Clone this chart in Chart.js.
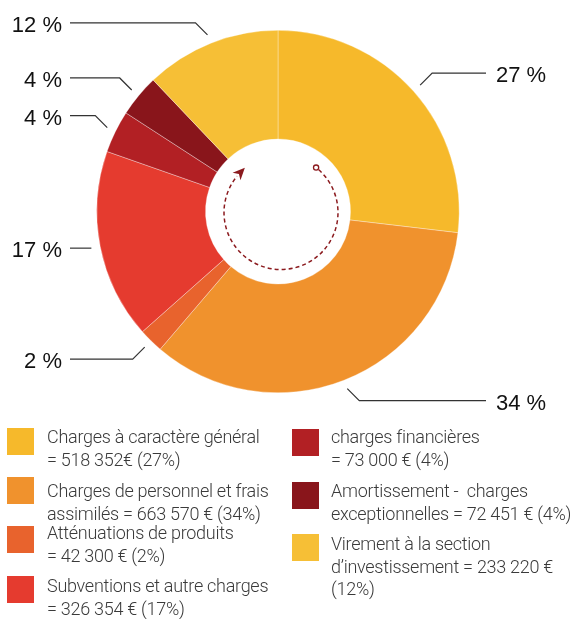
<!DOCTYPE html>
<html>
<head>
<meta charset="utf-8">
<script src="https://cdn.jsdelivr.net/npm/chart.js@4.4.1/dist/chart.umd.min.js"></script>
<style>
  html, body { margin: 0; padding: 0; background: #fff; }
  body { width: 571px; height: 619px; position: relative; overflow: hidden; }
  #c { position: absolute; left: 0; top: 0; }
  .sw { position: absolute; width: 27px; height: 27px; }
  .lt { position: absolute; font-family: Roboto, "Noto Sans", sans-serif; font-weight: 300;
        font-size: 18px; line-height: 22.5px; color: #3a3a3a; white-space: pre; letter-spacing: -0.28px; }
</style>
</head>
<body>
<canvas id="c" width="571" height="430"></canvas>
<div id="legend"></div>
<script>
// ---- data ----
const categories = [
  "Charges à caractère général\n= 518 352€ (27%)",
  "Charges de personnel et frais\nassimilés = 663 570 € (34%)",
  "Atténuations de produits\n= 42 300 € (2%)",
  "Subventions et autre charges\n= 326 354 € (17%)",
  "charges financières\n= 73 000 € (4%)",
  "Amortissement -  charges\nexceptionnelles = 72 451 € (4%)",
  "Virement à la section\nd’investissement = 233 220 €\n(12%)"
];
const values = [518352, 663570, 42300, 326354, 73000, 72451, 233220];
const colors = ["#F6B92B", "#F0922D", "#E8632D", "#E53B2F", "#B22024", "#89151B", "#F6BF36"];

// legend layout (positions only)
const legendPos = [
  {sx: 7, sy: 428, tx: 47, ty: 426},
  {sx: 7, sy: 477, tx: 47, ty: 480},
  {sx: 7, sy: 526, tx: 47, ty: 522},
  {sx: 7, sy: 576, tx: 47, ty: 575},
  {sx: 292, sy: 429, tx: 331, ty: 426},
  {sx: 292, sy: 482, tx: 331, ty: 480},
  {sx: 292, sy: 534, tx: 331, ty: 533}
];

const legend = document.getElementById('legend');
categories.forEach((txt, i) => {
  const p = legendPos[i];
  const s = document.createElement('div');
  s.className = 'sw';
  s.style.left = p.sx + 'px'; s.style.top = p.sy + 'px';
  s.style.background = colors[i];
  legend.appendChild(s);
  const t = document.createElement('div');
  t.className = 'lt';
  t.style.left = p.tx + 'px'; t.style.top = p.ty + 'px';
  t.textContent = txt;
  legend.appendChild(t);
});

const total = values.reduce((a, b) => a + b, 0);

const leaderPlugin = {
  id: 'leaders',
  afterDatasetsDraw(chart) {
    const ctx = chart.ctx;
    const meta = chart.getDatasetMeta(0);
    ctx.save();
    meta.data.forEach((arc, i) => {
      const mid = (arc.startAngle + arc.endAngle) / 2;
      const cx = arc.x, cy = arc.y;
      const r0 = arc.outerRadius + 9;
      const c = Math.cos(mid), s = Math.sin(mid);
      const x0 = cx + r0 * c, y0 = cy + r0 * s;
      const side = c >= 0 ? 1 : -1;
      let x1 = x0, y1 = y0;
      if (Math.abs(s) > 0.35) {
        x1 = x0 + side * 12;
        y1 = y0 + (s > 0 ? 1 : -1) * 12;
      }
      const xEnd = cx + side * 208;
      ctx.beginPath();
      ctx.strokeStyle = '#333';
      ctx.lineWidth = 1.2;
      ctx.moveTo(x0, y0);
      ctx.lineTo(x1, y1);
      ctx.lineTo(xEnd, y1);
      ctx.stroke();
      const pct = Math.round(values[i] / total * 100) + ' %';
      ctx.font = '22px "Liberation Sans", Arial, sans-serif';
      ctx.fillStyle = '#111';
      ctx.textBaseline = 'alphabetic';
      if (side > 0) {
        ctx.textAlign = 'left';
        ctx.fillText(pct, xEnd + 10, y1 + 9);
      } else {
        ctx.textAlign = 'right';
        ctx.fillText(pct, xEnd - 8, y1 + 9);
      }
    });

    // centre dashed arrow
    const a0 = meta.data[0];
    const cx = a0.x + 3, cy = a0.y + 1, rr = 57;
    const startA = -Math.PI / 2 + 38 * Math.PI / 180;
    const endA = -Math.PI / 2 + 314 * Math.PI / 180;
    ctx.beginPath();
    ctx.setLineDash([4, 3]);
    ctx.strokeStyle = '#8B1A1E';
    ctx.lineWidth = 1.5;
    ctx.arc(cx, cy, rr, startA + 0.06, endA - 0.08);
    ctx.stroke();
    ctx.setLineDash([]);
    // start small circle
    ctx.beginPath();
    ctx.lineWidth = 1.3;
    ctx.arc(cx + rr * Math.cos(startA), cy + rr * Math.sin(startA), 2.6, 0, Math.PI * 2);
    ctx.stroke();
    // arrow head
    const ex = cx + rr * Math.cos(endA), ey = cy + rr * Math.sin(endA);
    const tan = endA + Math.PI / 2; // direction of travel
    const hx = ex + 7 * Math.cos(tan), hy = ey + 7 * Math.sin(tan);
    const bx = ex - 5 * Math.cos(tan), by = ey - 5 * Math.sin(tan);
    const px = Math.cos(tan + Math.PI / 2), py = Math.sin(tan + Math.PI / 2);
    ctx.beginPath();
    ctx.fillStyle = '#8B1A1E';
    ctx.moveTo(hx, hy);
    ctx.lineTo(bx + 5.5 * px, by + 5.5 * py);
    ctx.lineTo(ex - 1.5 * Math.cos(tan), ey - 1.5 * Math.sin(tan));
    ctx.lineTo(bx - 5.5 * px, by - 5.5 * py);
    ctx.closePath();
    ctx.fill();
    ctx.restore();
  }
};

new Chart(document.getElementById('c'), {
  type: 'doughnut',
  data: {
    labels: categories,
    datasets: [{
      data: values,
      backgroundColor: colors,
      borderColor: 'rgba(255,255,255,0.55)',
      borderWidth: 0.6,
      hoverOffset: 0
    }]
  },
  options: {
    responsive: false,
    animation: false,
    cutout: '40%',
    layout: { padding: { left: 96, right: 111, top: 30, bottom: 37 } },
    plugins: { legend: { display: false }, tooltip: { enabled: false } },
    events: []
  },
  plugins: [leaderPlugin]
});
</script>
</body>
</html>
